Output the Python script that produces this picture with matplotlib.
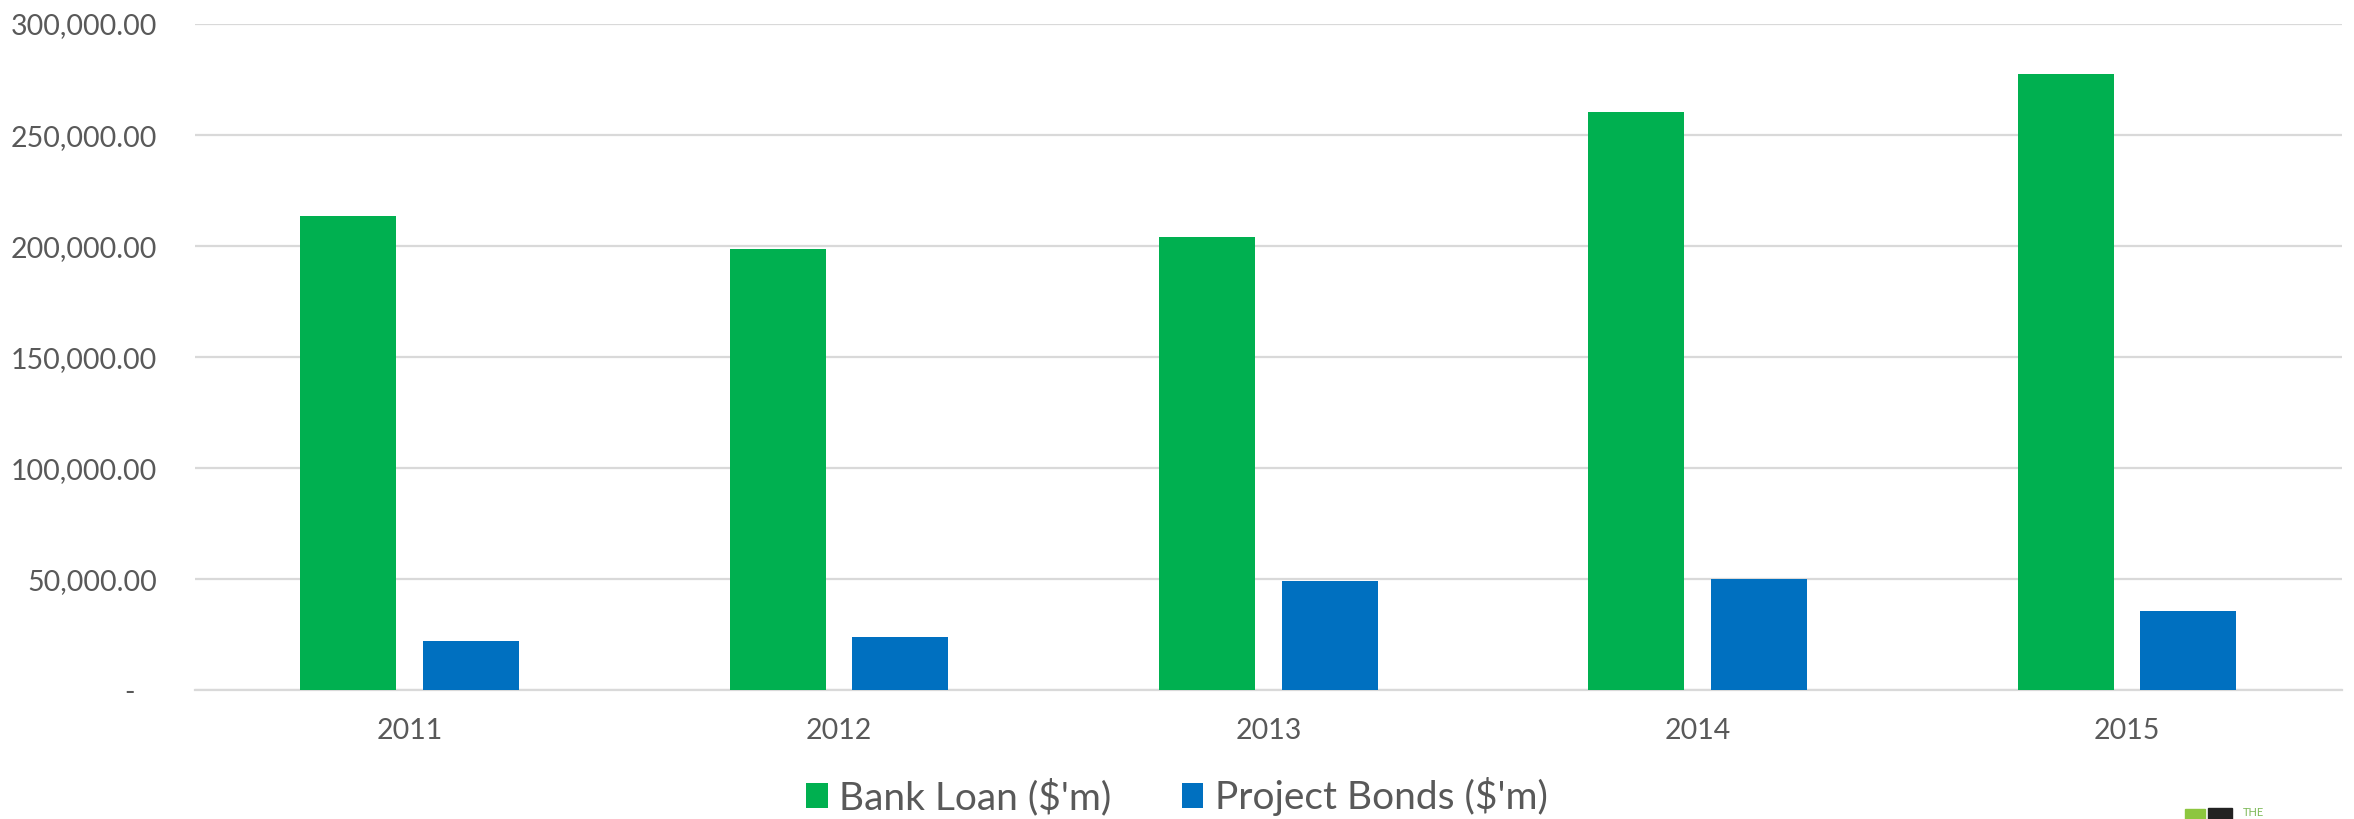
import numpy as np
import matplotlib
matplotlib.use("Agg")
import matplotlib.pyplot as plt
from matplotlib.patches import Rectangle

# data
years = ["2011", "2012", "2013", "2014", "2015"]
bank_loan = [213400, 198700, 204000, 260200, 277500]
project_bonds = [22200, 24200, 49400, 50400, 35800]
series_names = ["Bank Loan ($'m)", "Project Bonds ($'m)"]
y_ticks = [0, 50000, 100000, 150000, 200000, 250000, 300000]

GREEN = "#00B050"
BLUE = "#0070C0"
TEXT = "#595959"
GRID = "#D9D9D9"

plt.rcParams['font.family'] = ['Lato', 'DejaVu Sans']

fig = plt.figure(figsize=(23.54, 8.19), dpi=100)
fig.patch.set_facecolor('white')
ax = fig.add_axes([0.0828, 0.1569, 0.9120, 0.8138])

x = np.arange(len(years))
w = 0.2236
off = 0.1428
ax.bar(x - off, bank_loan, w, color=GREEN, label=series_names[0], zorder=3)
ax.bar(x + off, project_bonds, w, color=BLUE, label=series_names[1], zorder=3)

ax.set_xlim(-0.5, len(years) - 0.5)
ax.set_ylim(0, 300000)
ax.set_yticks(y_ticks)
ax.set_yticklabels(["-   "] + [f"{v:,.2f}" for v in y_ticks[1:]])
ax.set_xticks(x)
ax.set_xticklabels(years)

ax.grid(axis='y', color=GRID, lw=1.6, zorder=0)
ax.tick_params(axis='y', length=0, pad=27, labelsize=20.5, colors=TEXT)
ax.tick_params(axis='x', length=0, pad=20, labelsize=20.5, colors=TEXT)
for s in ['top', 'right', 'left']:
    ax.spines[s].set_visible(False)
ax.spines['bottom'].set_color(GRID)
ax.spines['bottom'].set_linewidth(1.6)

leg = fig.legend(loc='center', bbox_to_anchor=(0.5, 0.027), ncol=2, frameon=False,
                 fontsize=28, handlelength=0.55, handleheight=0.6, handletextpad=0.3,
                 columnspacing=1.8)
for t in leg.get_texts():
    t.set_color(TEXT)

# partial logo at the bottom right corner
W, H = 2354, 819
fig.patches.append(Rectangle((2185 / W, 0), 20 / W, 10 / H, transform=fig.transFigure,
                             color="#8DC63F", zorder=5))
fig.patches.append(Rectangle((2208 / W, 0), 24 / W, 11 / H, transform=fig.transFigure,
                             color="#222222", zorder=5))
fig.text(2243 / W, 1 / H, "THE", color="#7DB957", fontsize=8, va='bottom', ha='left')

fig.savefig("out.png", dpi=100)
